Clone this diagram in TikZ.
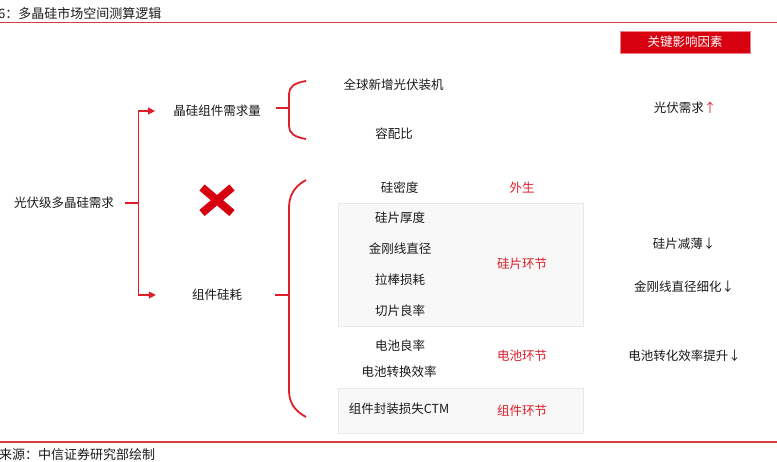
\documentclass[tikz,border=0pt]{standalone}
\usepackage{fontspec}
\setmainfont{Noto Sans CJK SC}
\usetikzlibrary{positioning, arrows.meta, calc}
\definecolor{zxred}{RGB}{222,30,42}
\definecolor{zxdark}{RGB}{215,0,15}
\definecolor{zxrule}{RGB}{214,60,62}
\definecolor{zxtext}{RGB}{25,25,25}
\definecolor{zxgray}{RGB}{248,248,248}
\definecolor{zxedge}{RGB}{232,232,232}
\tikzset{
    item/.style={font=\fontsize{12.5}{14}\selectfont, text=zxtext, inner sep=2pt},
    branch/.style={item, minimum width=90pt},
    stage/.style={font=\fontsize{12.5}{14}\selectfont, text=zxred, inner sep=2pt},
    caption/.style={font=\fontsize{13}{15}\selectfont, text=zxtext, inner sep=0pt, anchor=west},
    keybox/.style={rectangle, fill=zxdark, draw=zxdark!50, minimum width=130pt, minimum height=22pt, inner sep=0pt, text=white, font=\fontsize{12.5}{14}\selectfont},
    panel/.style={rectangle, fill=zxgray, draw=zxedge, line width=0.6pt, anchor=north west, inner sep=0pt},
    link/.style={draw=zxred, line width=1.2pt},
    arr/.style={-{Triangle[length=7pt, width=7pt]}, draw=zxred, line width=1.2pt},
    brace/.style={draw=zxred, line width=1.8pt},
    rule/.style={draw=zxrule, line width=1.2pt},
    crossmark/.style={draw=zxdark, line width=8pt}
}

\begin{document}
\begin{tikzpicture}[x=1pt, y=-1pt]
    \useasboundingbox (0,0) rectangle (777,462);
    % Title and rules
    \node[caption] (title) at (-2,14) {6：多晶硅市场空间测算逻辑};
    \draw[rule] (0,22.5) -- (777,22.5);
    \draw[rule] (0,442) -- (777,442);
    \node[caption] (source) at (-1,455) {来源：中信证券研究部绘制};
    \node[keybox] (key) at (685,42) {关键影响因素};

    % Grey panels
    \node[panel, minimum width=245pt, minimum height=123pt] (waferbox) at (338,203) {};
    \node[panel, minimum width=245pt, minimum height=45pt] (modbox) at (338,388) {};

    % Left tree
    \node[item] (root) at (64,203) {光伏级多晶硅需求};
    \node[branch] (demand) at (217,111) {晶硅组件需求量};
    \node[branch] (usage) at (217,295) {组件硅耗};
    \coordinate (fork) at (138.5,203);
    \draw[link, shorten <=9pt] (root.east) -- (fork);
    \draw[arr, shorten >=16pt] (fork) |- (demand);
    \draw[arr, shorten >=16pt] (fork) |- (usage);
    \draw[crossmark] (202,187.5) -- (232,213) (202,213) -- (232,187.5);

    % Braces
    \coordinate (b1) at (289,108);
    \coordinate (b2) at (289,295);
    \draw[brace, shorten <=13pt] (demand.east |- b1) -- (b1);
    \draw[brace, shorten <=13pt] (usage.east |- b2) -- (b2);
    \draw[brace] (306,81) .. controls (294,83) and (289,87) .. (289,94) -- (289,126) .. controls (289,133) and (294,137) .. (306,139);
    \draw[brace] (306,180) .. controls (293,187) and (289,197) .. (289,208) -- (289,390) .. controls (289,401) and (293,410) .. (306,417);

    % Factors
    \node[item] (install) at (393.5,85) {全球新增光伏装机};
    \node[item] (ratio) at (394,134) {容配比};
    \node[item] (density) at (399.5,188) {硅密度};
    \node[stage] (extern) at (522,188) {外生};
    \node[item] (thick) at (400,218) {硅片厚度};
    \node[item] (wire) at (400,249) {金刚线直径};
    \node[item] (pull) at (400,280) {拉棒损耗};
    \node[item] (cut) at (400,311) {切片良率};
    \node[stage] (wafer) at (522,264) {硅片环节};
    \node[item] (cellyield) at (400,346) {电池良率};
    \node[item] (celleff) at (399,372) {电池转换效率};
    \node[stage] (cell) at (522,356) {电池环节};
    \node[item] (ctm) at (399,409) {组件封装损失CTM};
    \node[stage] (module) at (522,411) {组件环节};

    % Key drivers
    \node[item] (k1) at (685,108) {光伏需求\textcolor{zxred}{↑}};
    \node[item] (k2) at (684,244) {硅片减薄↓};
    \node[item] (k3) at (684,287) {金刚线直径细化↓};
    \node[item] (k4) at (684.5,356) {电池转化效率提升↓};
\end{tikzpicture}
\end{document}
